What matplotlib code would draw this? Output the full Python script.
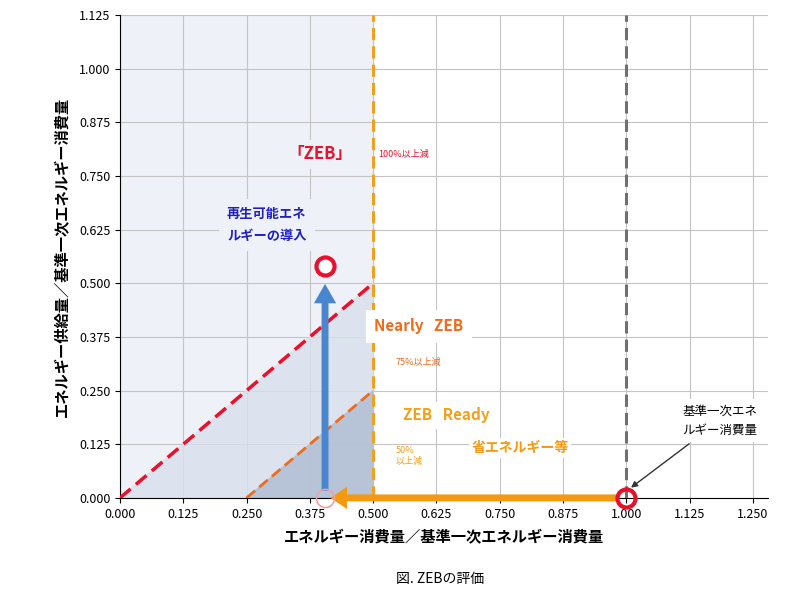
import matplotlib
matplotlib.use("Agg")
import matplotlib.pyplot as plt
import numpy as np
from matplotlib.patches import Polygon

plt.rcParams['font.family'] = ['Noto Sans CJK JP', 'DejaVu Sans']

xticks = [0.0,0.125,0.25,0.375,0.5,0.625,0.75,0.875,1.0,1.125,1.25]
yticks = [0.0,0.125,0.25,0.375,0.5,0.625,0.75,0.875,1.0,1.125]
zeb_line_x = [0.0, 0.5]; zeb_line_y = [0.0, 0.5]
ready_line_x = [0.25, 0.5]; ready_line_y = [0.0, 0.25]
target_x = 0.405; target_y = 0.54
base_x = 1.0

fig = plt.figure(figsize=(8, 5.97), dpi=100)
ax = fig.add_axes([0.15, 0.166, 0.81, 0.809])
ax.set_xlim(0, 1.28); ax.set_ylim(0, 1.125)
ax.set_xticks(xticks); ax.set_yticks(yticks)
ax.set_xticklabels([f"{v:.3f}" for v in xticks], fontsize=9)
ax.set_yticklabels([f"{v:.3f}" for v in yticks], fontsize=9)
ax.grid(True, color='#c4c4c4', lw=0.8)
ax.set_axisbelow(True)
for s in ['top','right']:
    ax.spines[s].set_visible(False)

ax.axvspan(0, 0.5, color='#eef2f8', zorder=0.5)
ax.add_patch(Polygon([[0,0],[0.5,0.5],[0.5,0]], closed=True, color='#d8e0ec', zorder=0.6, alpha=0.8))
ax.add_patch(Polygon([[0.25,0],[0.5,0.25],[0.5,0]], closed=True, color='#aebcd2', zorder=0.7, alpha=0.8))

ax.plot(zeb_line_x, zeb_line_y, ls=(0,(4,2)), color='#e8102a', lw=2.5, zorder=3)
ax.plot(ready_line_x, ready_line_y, ls=(0,(4,2)), color='#f06a1a', lw=2, zorder=3)
ax.axvline(0.5, color='#f5a01a', ls=(0,(4,2)), lw=2.2, zorder=3)
ax.axvline(base_x, color='#707070', ls=(0,(4,2)), lw=2.2, zorder=3)

ax.annotate('', xy=(target_x, 0.505), xytext=(target_x, 0.01),
            arrowprops=dict(arrowstyle='simple,head_width=1.6,head_length=1.4,tail_width=0.5',
                            color='#4a86d0', lw=0), zorder=4)
ax.annotate('', xy=(0.41, 0.0), xytext=(0.99, 0.0),
            arrowprops=dict(arrowstyle='simple,head_width=1.6,head_length=1.2,tail_width=0.5',
                            color='#f59a10', lw=0), zorder=4, annotation_clip=False)
ax.plot([target_x], [target_y], 'o', ms=13, mfc='white', mec='#e8102a', mew=3, zorder=5)
ax.plot([target_x], [0.0], 'o', ms=13, mfc='none', mec='#f0a0a8', mew=1.2, zorder=5, clip_on=False)
ax.plot([base_x], [0.0], 'o', ms=13, mfc='none', mec='#e8102a', mew=3, zorder=5, clip_on=False)

ax.text(0.395, 0.80, '「ZEB」', color='#e8102a', fontsize=12, fontweight='bold', style='italic', ha='center', va='center',
        bbox=dict(fc='#eef2f8', ec='none'))
ax.text(0.51, 0.80, '100%以上減', color='#e8102a', fontsize=6.5, va='center')
ax.text(0.29, 0.635, '再生可能エネ\nルギーの導入', color='#2020c0', fontsize=9.5, fontweight='bold', ha='center', va='center',
        linespacing=1.7, bbox=dict(fc='#eef2f8', ec='none', pad=6))
ax.text(0.59, 0.40, 'Nearly   ZEB', color='#f06a1a', fontsize=11, fontweight='bold', style='italic', ha='center', va='center',
        bbox=dict(fc='white', ec='none', pad=6))
ax.text(0.545, 0.316, '75%以上減', color='#f06a1a', fontsize=6.5, va='center')
ax.text(0.645, 0.193, 'ZEB   Ready', color='#f5a01a', fontsize=11, fontweight='bold', style='italic', ha='center', va='center',
        bbox=dict(fc='white', ec='none', pad=4))
ax.text(0.545, 0.12, '50%\n以上減', color='#f5a01a', fontsize=6.5, va='top')
ax.text(0.79, 0.116, '省エネルギー等', color='#f59a10', fontsize=10, fontweight='bold', ha='center', va='center',
        bbox=dict(fc='white', ec='none', pad=2))
ax.annotate('基準一次エネ\nルギー消費量', xy=(1.005, 0.02), xytext=(1.185, 0.18),
            fontsize=9, ha='center', va='center', linespacing=1.6,
            bbox=dict(fc='white', ec='none'),
            arrowprops=dict(arrowstyle='-|>', color='#333333', lw=1))

ax.set_xlabel('エネルギー消費量／基準一次エネルギー消費量', fontsize=11, fontweight='bold', labelpad=6)
ax.set_ylabel('エネルギー供給量／基準一次エネルギー消費量', fontsize=11, fontweight='bold', labelpad=6)
fig.text(0.55, 0.03, '図. ZEBの評価', fontsize=10, ha='center', va='center')
fig.savefig('out.png', dpi=100)
